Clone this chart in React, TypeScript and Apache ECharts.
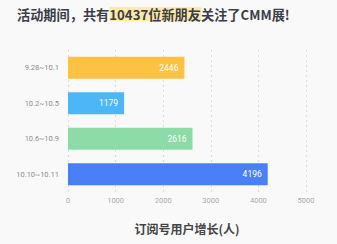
import React, { useEffect, useRef } from "react";
import * as echarts from "echarts";

const categories = ["9.28~10.1", "10.2~10.5", "10.6~10.9", "10.10~10.11"];
const values = [2446, 1179, 2616, 4196];
const barColors = ["#FFC143", "#4DB6F6", "#8DDBA6", "#4A80F7"];
const xTicks = [0, 1000, 2000, 3000, 4000, 5000];

export default function App() {
  const ref = useRef<HTMLDivElement>(null);
  useEffect(() => {
    document.body.style.margin = "0";
    const chart = echarts.init(ref.current!, null, { renderer: "svg" });
    const cjk = "'Noto Sans CJK SC', sans-serif";
    chart.setOption({
      animation: false,
      backgroundColor: "#f9f9f9",
      textStyle: { fontFamily: "Roboto, 'Noto Sans', sans-serif" },
      title: {
        text: "{a|活动期间，共有}{h|10437位新朋友}{a|关注了CMM展!}",
        left: 12,
        top: 2,
        textStyle: {
          rich: {
            a: { fontSize: 13.2, fontWeight: "bold", color: "#3b3d48", fontFamily: cjk },
            h: {
              fontSize: 13.2,
              fontWeight: "bold",
              color: "#3b3d48",
              backgroundColor: "#FFE9A6",
              padding: [1, 0, 0, 0],
              fontFamily: cjk,
            },
          },
        },
      },
      grid: { left: 68, right: 31, top: 50, bottom: 52, containLabel: false },
      xAxis: {
        type: "value",
        min: 0,
        max: 5000,
        interval: 1000,
        name: "订阅号用户增长(人)",
        nameLocation: "middle",
        nameGap: 30,
        nameTextStyle: { fontSize: 12, fontWeight: "bold", color: "#444", fontFamily: cjk },
        axisLine: { show: false },
        axisTick: { show: false },
        axisLabel: {
          color: "#aaa",
          fontSize: 7.5,
          margin: 4,
          formatter: (v: number) => (xTicks.includes(v) ? String(v) : ""),
        },
        splitLine: { show: true, lineStyle: { type: [2, 3], color: "#ddd", width: 1 } },
      },
      yAxis: {
        type: "category",
        data: categories,
        inverse: true,
        axisLine: { show: false },
        axisTick: { show: false },
        axisLabel: { color: "#8c8c8c", fontSize: 7.5, margin: 9 },
        splitLine: { show: false },
      },
      series: [
        {
          type: "bar",
          barWidth: 22,
          data: values.map((v, i) => ({ value: v, itemStyle: { color: barColors[i] } })),
          label: {
            show: true,
            position: "insideRight",
            distance: 6,
            color: "#fff",
            fontSize: 8.5,
          },
        },
      ],
    });
    return () => chart.dispose();
  }, []);
  return <div ref={ref} style={{ width: 337, height: 244 }} />;
}
